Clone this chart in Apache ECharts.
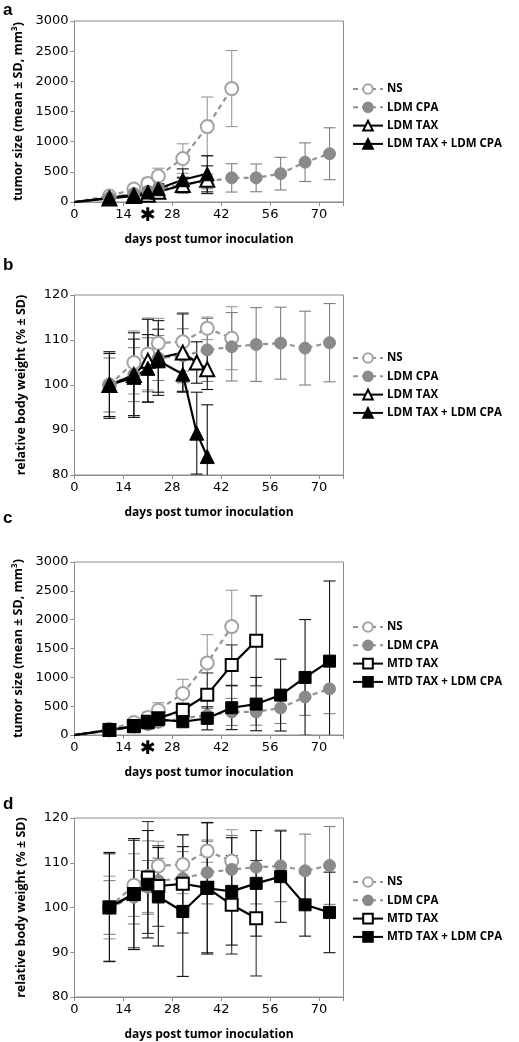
<!DOCTYPE html>
<html>
<head>
<meta charset="utf-8">
<script src="https://cdn.jsdelivr.net/npm/echarts@6/dist/echarts.min.js"></script>
<style>html,body{margin:0;padding:0;background:#fff;}#c{width:519px;height:1042px;}</style>
</head>
<body>
<div id="c"></div>
<script>
// ---------- data ----------
const xTicks = [0, 14, 28, 42, 56, 70];
const starDay = 21;

// panel a: tumor size (LDM TAX)
const aDaysNS = [0, 10, 17, 21, 24, 31, 38, 45];
const aNS = [0, 100, 215, 305, 430, 720, 1250, 1880];
const aNS_sd = [0, 30, 60, 90, 130, 245, 490, 630];
const aDaysCPA = [0, 10, 17, 21, 24, 31, 38, 45, 52, 59, 66, 73];
const aCPA = [0, 70, 140, 180, 220, 290, 340, 400, 400, 470, 660, 800];
const aCPA_sd = [0, 20, 40, 60, 70, 100, 120, 235, 230, 270, 320, 430];
const aDaysTAX = [0, 10, 17, 21, 24, 31, 38];
const aTAX = [0, 60, 100, 120, 170, 280, 369];
const aTAX_sd = [0, 20, 40, 50, 70, 130, 230];
const aTAXCPA = [0, 70, 122, 165, 220, 369, 468];
const aTAXCPA_sd = [0, 20, 40, 60, 80, 180, 300];

// panel b: body weight (LDM TAX)
const bDaysNS = [10, 17, 21, 24, 31, 38, 45];
const bNS = [100, 105, 106.9, 109.3, 109.6, 112.6, 110.4];
const bNS_sd = [7, 7, 8, 5.5, 6.5, 2.5, 7];
const bDaysCPA = [10, 17, 21, 24, 31, 38, 45, 52, 59, 66, 73];
const bCPA = [100, 102.3, 104.5, 106, 106.5, 107.8, 108.5, 109, 109.3, 108.2, 109.4];
const bCPA_sd = [6, 6, 6, 5, 6, 7, 7.6, 8.2, 8, 8.2, 8.7];
const bDaysTAX = [10, 17, 21, 24, 31, 35, 38];
const bTAX = [100, 102.2, 105.4, 106, 107.2, 105, 103.5];
const bTAX_sd = [7.4, 9.4, 9.2, 8.3, 8.6, 4.6, 4.5];
const bTAXCPA = [100, 101.7, 103.7, 105.4, 102.4, 89.3, 84.1];
const bTAXCPA_sd = [7, 8.5, 7.5, 7, 4, 9.1, 11.5];

// panel c: tumor size (MTD TAX)
const cDaysMTD = [0, 10, 17, 21, 24, 31, 38, 45, 52];
const cMTD = [0, 87, 156, 230, 289, 433, 700, 1212, 1633];
const cMTD_sd = [0, 30, 50, 70, 80, 120, 376, 350, 780];
const cDaysMTDCPA = [0, 10, 17, 21, 24, 31, 38, 45, 52, 59, 66, 73];
const cMTDCPA = [0, 87, 144, 210, 270, 230, 289, 473, 536, 692, 998, 1281];
const cMTDCPA_sd = [0, 30, 40, 60, 70, 80, 200, 380, 462, 623, 1004, 1390];

// panel d: body weight (MTD TAX)
const dDaysMTD = [10, 17, 21, 24, 31, 38, 45, 52];
const dMTD = [100, 103, 106.7, 104.8, 105.3, 104.4, 100.6, 97.6];
const dMTD_sd = [12, 12, 12.5, 9, 11, 14.5, 11, 12.9];
const dDaysMTDCPA = [10, 17, 21, 24, 31, 38, 45, 52, 59, 66, 73];
const dMTDCPA = [100.1, 103, 105.2, 102.4, 99.1, 104.3, 103.6, 105.4, 106.9, 100.6, 98.9];
const dMTDCPA_sd = [12.2, 12.4, 12, 11, 14.5, 14.7, 12, 11.8, 10.2, 7, 9];

// ---------- styles ----------
const FONT = 'DejaVu Sans';
const TFONT = 'Open Sans';
const AXC = '#8c8c8c';
const STY = {
  'NS': {color: '#a3a3a3', line: '#939393', dash: [5, 4], symbol: 'emptyCircle', size: 13},
  'LDM CPA': {color: '#8a8a8a', line: '#939393', dash: [5, 4], symbol: 'circle', size: 12},
  'LDM TAX': {color: '#000', line: '#000', dash: 'solid', symbol: 'emptyTriangle', size: 14},
  'LDM TAX + LDM CPA': {color: '#000', line: '#000', dash: 'solid', symbol: 'triangle', size: 14},
  'MTD TAX': {color: '#000', line: '#000', dash: 'solid', symbol: 'emptyRect', size: 12},
  'MTD TAX + LDM CPA': {color: '#000', line: '#000', dash: 'solid', symbol: 'rect', size: 12}
};
const ERRC = {'NS': '#9a9a9a', 'LDM CPA': '#7f7f7f', 'LDM TAX': '#111', 'LDM TAX + LDM CPA': '#111', 'MTD TAX': '#333', 'MTD TAX + LDM CPA': '#111'};

const gridsPx = [
  {top: 21, height: 181},
  {top: 295, height: 180},
  {top: 562, height: 173},
  {top: 818, height: 180}
];
const grid = gridsPx.map(g => ({left: 74.5, width: 269, top: g.top, height: g.height,
  show: true, borderColor: AXC, borderWidth: 1, backgroundColor: 'transparent'}));

const xAxis = grid.map((g, i) => ({
  type: 'value', gridIndex: i, min: 0, max: 77, interval: 14,
  name: 'days post tumor inoculation', nameLocation: 'middle', nameGap: 32,
  nameTextStyle: {fontFamily: TFONT, fontWeight: 'bold', fontSize: 12, color: '#000'},
  axisLine: {show: true, lineStyle: {color: AXC}},
  axisTick: {show: true, length: 4, lineStyle: {color: AXC}},
  axisLabel: {fontFamily: FONT, fontSize: 13, color: '#000', margin: 6,
    formatter: v => xTicks.includes(v) ? String(v) : ''},
  splitLine: {show: false}
}));

const yDefs = [
  {min: 0, max: 3000, interval: 500, name: 'tumor size (mean ± SD, mm³)'},
  {min: 80, max: 120, interval: 10, name: 'relative body weight (% ± SD)'},
  {min: 0, max: 3000, interval: 500, name: 'tumor size (mean ± SD, mm³)'},
  {min: 80, max: 120, interval: 10, name: 'relative body weight (% ± SD)'}
];
const yAxis = yDefs.map((d, i) => ({
  type: 'value', gridIndex: i, min: d.min, max: d.max, interval: d.interval,
  name: d.name, nameLocation: 'middle', nameGap: 47, nameRotate: 90,
  nameTextStyle: {fontFamily: TFONT, fontWeight: 'bold', fontSize: 12.5, color: '#000'},
  axisLine: {show: true, lineStyle: {color: AXC}},
  axisTick: {show: true, length: 4, lineStyle: {color: AXC}},
  axisLabel: {fontFamily: FONT, fontSize: 13, color: '#000', margin: 6, formatter: v => String(v)},
  splitLine: {show: false}
}));

function lineSeries(name, gi, days, vals) {
  const s = STY[name];
  return {
    type: 'line', name: name, xAxisIndex: gi, yAxisIndex: gi, z: 3,
    symbol: s.symbol, symbolSize: s.size, showAllSymbol: true,
    itemStyle: {color: s.color, borderColor: s.color, borderWidth: s.symbol.startsWith('empty') ? 2.5 : 1},
    lineStyle: {color: s.line, width: 2.2, type: s.dash},
    data: days.map((d, k) => d === 0 ? {value: [d, vals[k]], symbol: 'none'} : [d, vals[k]]),
    animation: false
  };
}
function errSeries(name, gi, days, vals, sds) {
  const data = [];
  days.forEach((d, k) => { if (sds[k] > 0) data.push([d, vals[k] - sds[k], vals[k] + sds[k]]); });
  return {
    type: 'custom', name: name + ' sd ' + gi, xAxisIndex: gi, yAxisIndex: gi, z: 2, clip: true,
    itemStyle: {color: ERRC[name]},
    renderItem: function (params, api) {
      const x = api.value(0);
      const lo = api.coord([x, api.value(1)]);
      const hi = api.coord([x, api.value(2)]);
      const w = 6;
      const st = {stroke: ERRC[name], lineWidth: 1.1, fill: null};
      return {type: 'group', children: [
        {type: 'line', shape: {x1: lo[0], y1: lo[1], x2: hi[0], y2: hi[1]}, style: st},
        {type: 'line', shape: {x1: lo[0] - w, y1: lo[1], x2: lo[0] + w, y2: lo[1]}, style: st},
        {type: 'line', shape: {x1: hi[0] - w, y1: hi[1], x2: hi[0] + w, y2: hi[1]}, style: st}
      ]};
    },
    data: data, animation: false
  };
}

const series = [];
function addPair(name, gi, days, vals, sds) {
  series.push(errSeries(name, gi, days, vals, sds));
  series.push(lineSeries(name, gi, days, vals));
}
// a
addPair('NS', 0, aDaysNS, aNS, aNS_sd);
addPair('LDM CPA', 0, aDaysCPA, aCPA, aCPA_sd);
addPair('LDM TAX', 0, aDaysTAX, aTAX, aTAX_sd);
addPair('LDM TAX + LDM CPA', 0, aDaysTAX, aTAXCPA, aTAXCPA_sd);
// b
addPair('NS', 1, bDaysNS, bNS, bNS_sd);
addPair('LDM CPA', 1, bDaysCPA, bCPA, bCPA_sd);
addPair('LDM TAX', 1, bDaysTAX, bTAX, bTAX_sd);
addPair('LDM TAX + LDM CPA', 1, bDaysTAX, bTAXCPA, bTAXCPA_sd);
// c
addPair('NS', 2, aDaysNS, aNS, aNS_sd);
addPair('LDM CPA', 2, aDaysCPA, aCPA, aCPA_sd);
addPair('MTD TAX', 2, cDaysMTD, cMTD, cMTD_sd);
addPair('MTD TAX + LDM CPA', 2, cDaysMTDCPA, cMTDCPA, cMTDCPA_sd);
// d
addPair('NS', 3, bDaysNS, bNS, bNS_sd);
addPair('LDM CPA', 3, bDaysCPA, bCPA, bCPA_sd);
addPair('MTD TAX', 3, dDaysMTD, dMTD, dMTD_sd);
addPair('MTD TAX + LDM CPA', 3, dDaysMTDCPA, dMTDCPA, dMTDCPA_sd);

const legendTops = [78, 347, 616, 871];
const legendNames = [
  ['NS', 'LDM CPA', 'LDM TAX', 'LDM TAX + LDM CPA'],
  ['NS', 'LDM CPA', 'LDM TAX', 'LDM TAX + LDM CPA'],
  ['NS', 'LDM CPA', 'MTD TAX', 'MTD TAX + LDM CPA'],
  ['NS', 'LDM CPA', 'MTD TAX', 'MTD TAX + LDM CPA']
];
const legend = legendNames.map((names, i) => ({
  data: names, orient: 'vertical', left: 347, top: legendTops[i],
  itemWidth: 30, itemHeight: 12, itemGap: 6.3, selectedMode: false,
  textStyle: {fontFamily: TFONT, fontWeight: 'bold', fontSize: 11.5, color: '#000', padding: [0, 0, 0, -1]}
}));

const panelLetters = ['a', 'b', 'c', 'd'];
const letterTops = [2, 257, 510, 796];

const chart = echarts.init(document.getElementById('c'), null, {renderer: 'canvas'});
chart.setOption({
  animation: false, backgroundColor: '#fff',
  grid: grid, xAxis: xAxis, yAxis: yAxis, legend: legend, series: series
});

const graphics = panelLetters.map((t, i) => ({
  type: 'text', left: 3, top: letterTops[i],
  style: {text: t, fontFamily: 'Liberation Sans', fontWeight: 'bold', fontSize: 17, fill: '#000'}
}));
[0, 2].forEach(gi => {
  const p = chart.convertToPixel({gridIndex: gi}, [starDay, yDefs[gi].min]);
  graphics.push({
    type: 'text', x: p[0], y: p[1] + 14,
    style: {text: '✱', fontFamily: FONT, fontWeight: 'bold', fontSize: 19, fill: '#000', align: 'center', verticalAlign: 'middle'}
  });
});
chart.setOption({graphic: graphics});
</script>
</body>
</html>
